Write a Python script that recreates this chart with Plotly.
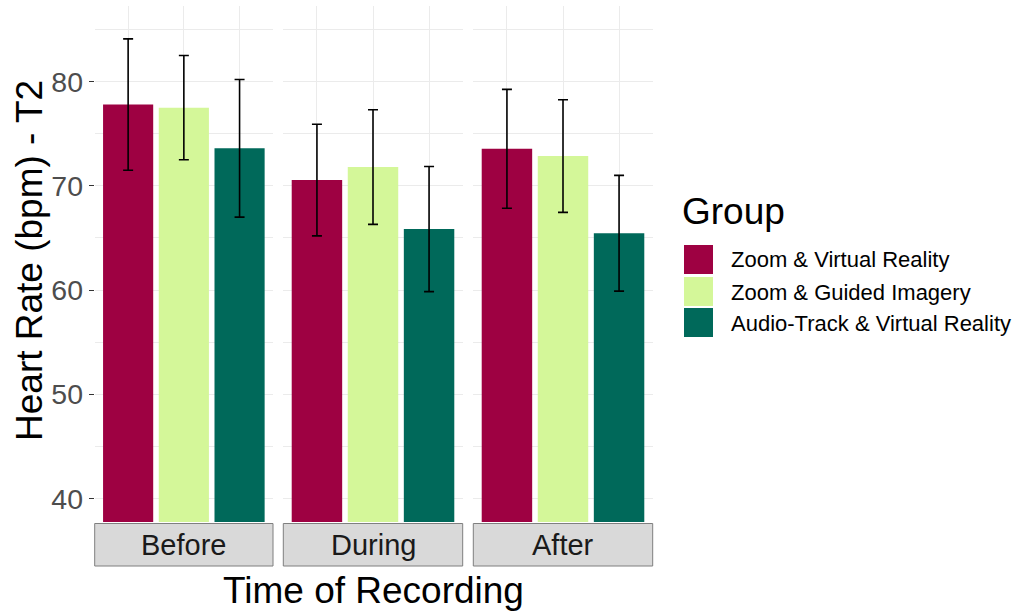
import plotly.graph_objects as go

# ---- data ----
times = ["Before", "During", "After"]
groups = ["Zoom & Virtual Reality", "Zoom & Guided Imagery", "Audio-Track & Virtual Reality"]
mean_before = [77.8, 77.5, 73.6]
mean_during = [70.55, 71.8, 65.85]
mean_after = [73.55, 72.85, 65.45]
err_before = [6.3, 5.0, 6.6]
err_during = [5.35, 5.5, 6.0]
err_after = [5.7, 5.4, 5.55]
colors = ["#9E0142", "#D4F799", "#00695A"]
y_ticks = [40, 50, 60, 70, 80]

means = [mean_before, mean_during, mean_after]
errs = [err_before, err_during, err_after]

W, H = 1016, 611
def px_x(x):
    return x / W
def px_y(y):
    return 1 - y / H

panels_px = [(94.7, 273.0), (283.3, 462.7), (473.3, 652.7)]
panel_top, panel_bot = 6.0, 522.0
strip_bot = 566.0
font_family = "Liberation Sans, Arial, sans-serif"

fig = go.Figure()
for i, t in enumerate(times):
    sfx = "" if i == 0 else str(i + 1)
    fig.add_trace(go.Bar(
        x=groups, y=means[i],
        marker=dict(color=colors, line=dict(width=0)),
        width=0.9,
        error_y=dict(type="data", array=errs[i], color="black", thickness=1.6, width=5),
        xaxis="x" + sfx, yaxis="y" + sfx,
        showlegend=False,
    ))

layout = dict(
    width=W, height=H,
    margin=dict(l=0, r=0, t=0, b=0),
    plot_bgcolor="white", paper_bgcolor="white",
    font=dict(family=font_family, color="black"),
    bargap=0.1,
)
for i, t in enumerate(times):
    sfx = "" if i == 0 else str(i + 1)
    x0, x1 = panels_px[i]
    layout["xaxis" + sfx] = dict(
        domain=[px_x(x0), px_x(x1)],
        anchor="y" + sfx,
        type="category",
        categoryorder="array", categoryarray=groups,
        range=[-0.6, 2.6],
        showticklabels=False, ticks="",
        showgrid=True, gridcolor="#EBEBEB", gridwidth=1.2,
        zeroline=False, showline=False,
    )
    layout["yaxis" + sfx] = dict(
        domain=[px_y(panel_bot), px_y(panel_top)],
        anchor="x" + sfx,
        range=[37.75, 87.25],
        tickmode="array", tickvals=y_ticks, ticktext=[str(v) for v in y_ticks],
        showticklabels=(i == 0),
        ticks="outside" if i == 0 else "", ticklen=5, tickcolor="#333333", tickwidth=1,
        tickfont=dict(size=28.5, color="#4D4D4D", family=font_family),
        showgrid=True, gridcolor="#EBEBEB", gridwidth=1.2,
        minor=dict(tickvals=[45, 55, 65, 75, 85], showgrid=True, gridcolor="#EBEBEB", gridwidth=0.6, ticks=""),
        zeroline=False, showline=False,
    )
    if i > 0:
        layout["yaxis" + sfx]["matches"] = "y"

shapes = []
annotations = []
# facet strips at bottom
for i, t in enumerate(times):
    x0, x1 = panels_px[i]
    shapes.append(dict(type="rect", xref="paper", yref="paper",
                       x0=px_x(x0), x1=px_x(x1), y0=px_y(strip_bot), y1=px_y(panel_bot + 1.5),
                       fillcolor="#D9D9D9", line=dict(color="#7F7F7F", width=1)))
    annotations.append(dict(text=t, xref="paper", yref="paper",
                            x=px_x((x0 + x1) / 2), y=px_y((panel_bot + strip_bot) / 2 + 1),
                            showarrow=False, xanchor="center", yanchor="middle",
                            font=dict(size=29, color="#1A1A1A", family=font_family)))

# axis titles
annotations.append(dict(text="Time of Recording", xref="paper", yref="paper",
                        x=px_x((panels_px[0][0] + panels_px[2][1]) / 2), y=px_y(590),
                        showarrow=False, xanchor="center", yanchor="middle",
                        font=dict(size=37, color="black", family=font_family)))
annotations.append(dict(text="Heart Rate (bpm) - T2", xref="paper", yref="paper",
                        x=px_x(29), y=px_y(261),
                        showarrow=False, xanchor="center", yanchor="middle", textangle=-90,
                        font=dict(size=37, color="black", family=font_family)))

# legend (drawn manually to match large key boxes)
annotations.append(dict(text="Group", xref="paper", yref="paper",
                        x=px_x(680), y=px_y(212), showarrow=False,
                        xanchor="left", yanchor="middle",
                        font=dict(size=37, color="black", family=font_family)))
key_tops = [245, 277, 308]
for g, c, kt in zip(groups, colors, key_tops):
    shapes.append(dict(type="rect", xref="paper", yref="paper",
                       x0=px_x(684), x1=px_x(713), y0=px_y(kt + 29), y1=px_y(kt),
                       fillcolor=c, line=dict(width=0)))
    annotations.append(dict(text=g, xref="paper", yref="paper",
                            x=px_x(729), y=px_y(kt + 15), showarrow=False,
                            xanchor="left", yanchor="middle",
                            font=dict(size=22, color="black", family=font_family)))

layout["shapes"] = shapes
layout["annotations"] = annotations
fig.update_layout(**layout)
fig.write_html("out.html", config={"displayModeBar": False},
               post_script="document.body.style.margin='0';document.body.style.overflow='hidden';")
